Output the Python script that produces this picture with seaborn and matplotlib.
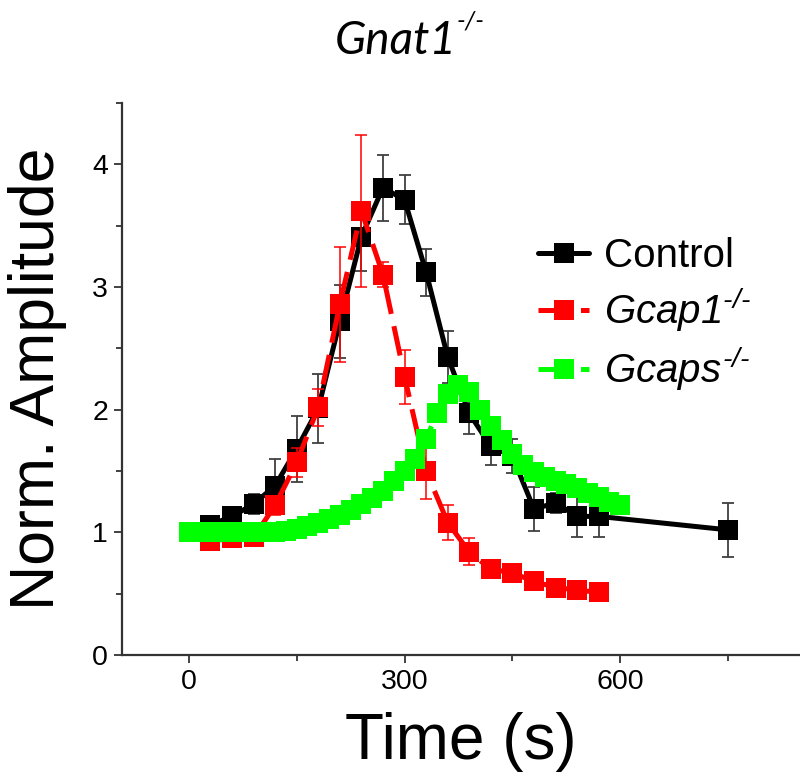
import numpy as np
import pandas as pd
import matplotlib
matplotlib.use("Agg")
import matplotlib.pyplot as plt
from matplotlib.ticker import MultipleLocator
import seaborn as sns

# data
t_ctrl = [30, 60, 90, 120, 150, 180, 210, 240, 270, 300, 330, 360, 390, 420, 450,
          480, 510, 540, 570, 750]
amp_ctrl = [1.06, 1.13, 1.23, 1.38, 1.68, 2.01, 2.72, 3.41, 3.81, 3.71, 3.12, 2.43,
            1.97, 1.70, 1.62, 1.19, 1.24, 1.13, 1.13, 1.02]
err_ctrl = [0.05, 0.07, 0.08, 0.22, 0.27, 0.28, 0.30, 0.28, 0.27, 0.20, 0.19, 0.21,
            0.17, 0.15, 0.14, 0.18, 0.08, 0.17, 0.17, 0.22]

t_gcap1 = [30, 60, 90, 120, 150, 180, 210, 240, 270, 300, 330, 360, 390, 420, 450,
           480, 510, 540, 570]
amp_gcap1 = [0.93, 0.95, 0.96, 1.22, 1.57, 2.02, 2.86, 3.62, 3.10, 2.27, 1.50, 1.08,
             0.84, 0.70, 0.67, 0.60, 0.55, 0.53, 0.51]
err_gcap1 = [0.03, 0.03, 0.03, 0.08, 0.12, 0.15, 0.47, 0.62, 0.10, 0.22, 0.23, 0.14,
             0.11, 0.05, 0.04, 0.03, 0.03, 0.03, 0.03]

t_gcaps = [0, 15, 30, 45, 60, 75, 90, 105, 120, 135, 150, 165, 180, 195, 210, 225,
           240, 255, 270, 285, 300, 315, 330, 345, 360, 375, 390, 405, 420, 435, 450,
           465, 480, 495, 510, 525, 540, 555, 570, 585, 600]
amp_gcaps = [1.00, 1.00, 1.00, 1.00, 1.00, 1.00, 1.00, 1.00, 1.00, 1.01, 1.03, 1.05,
             1.08, 1.11, 1.14, 1.18, 1.23, 1.28, 1.34, 1.42, 1.50, 1.60, 1.76, 1.97,
             2.13, 2.20, 2.14, 2.00, 1.87, 1.75, 1.64, 1.55, 1.49, 1.45, 1.42, 1.39,
             1.36, 1.32, 1.29, 1.25, 1.22]
err_gcaps = [0.05] * len(t_gcaps)

labels = ["Control", r"$Gcap1^{\text{-/-}}$", r"$Gcaps^{\text{-/-}}$"]

sns.set_style("ticks")
plt.rcParams["font.family"] = ["Liberation Sans", "DejaVu Sans"]
plt.rcParams["text.color"] = "black"
plt.rcParams["axes.labelcolor"] = "black"
plt.rcParams["xtick.color"] = "black"
plt.rcParams["ytick.color"] = "black"
# all math text (only used for the genotype labels) is italic
plt.rcParams["mathtext.fontset"] = "custom"
plt.rcParams["mathtext.it"] = "Liberation Sans:italic"
plt.rcParams["mathtext.rm"] = "Liberation Sans:italic"

fig = plt.figure(figsize=(8, 7.82), dpi=100)
ax = fig.add_axes([0.1525, 0.1624, 0.8475, 0.7059])

df_ctrl = pd.DataFrame({"t": t_ctrl, "amp": amp_ctrl})
df_g1 = pd.DataFrame({"t": t_gcap1, "amp": amp_gcap1})
df_gs = pd.DataFrame({"t": t_gcaps, "amp": amp_gcaps})

ms = 15
dash = (0, (6, 2.5))
# Control
ax.errorbar(t_ctrl, amp_ctrl, yerr=err_ctrl, fmt="none", ecolor="#404040",
            elinewidth=1.3, capsize=4.5, capthick=1.3, zorder=1)
sns.lineplot(data=df_ctrl, x="t", y="amp", ax=ax, color="black", marker="s",
             markersize=ms, markeredgewidth=0, linewidth=3.6, errorbar=None,
             label=labels[0], zorder=2)
# Gcap1-/-
ax.errorbar(t_gcap1, amp_gcap1, yerr=err_gcap1, fmt="none", ecolor="red",
            elinewidth=1.1, capsize=4.5, capthick=1.1, zorder=3)
sns.lineplot(data=df_g1, x="t", y="amp", ax=ax, color="#ff0000", marker="s",
             markersize=ms, markeredgewidth=0, linewidth=3.6, errorbar=None,
             linestyle=dash, label=labels[1], zorder=4)
# Gcaps-/-
ax.errorbar(t_gcaps, amp_gcaps, yerr=err_gcaps, fmt="none", ecolor="#00ff00",
            elinewidth=1.1, capsize=4.5, capthick=1.1, zorder=5)
sns.lineplot(data=df_gs, x="t", y="amp", ax=ax, color="#00ff00", marker="s",
             markersize=ms, markeredgewidth=0, linewidth=3.6, errorbar=None,
             linestyle=dash, label=labels[2], zorder=6)

ax.set_xlim(-93, 850)
ax.set_ylim(0, 4.5)
ax.set_xticks([0, 300, 600])
ax.xaxis.set_minor_locator(MultipleLocator(150))
ax.yaxis.set_major_locator(MultipleLocator(1))
ax.yaxis.set_minor_locator(MultipleLocator(0.5))
ax.tick_params(axis="both", which="major", direction="out", length=6, width=1.3,
               labelsize=20.5, color="#333333", pad=4)
ax.tick_params(axis="both", which="minor", direction="out", length=4, width=1.3,
               color="#333333")
sns.despine(ax=ax)
for s in ["left", "bottom"]:
    ax.spines[s].set_linewidth(1.6)
    ax.spines[s].set_color("#333333")

ax.set_xlabel("Time (s)", fontsize=46, labelpad=12)
ax.set_ylabel("Norm. Amplitude", fontsize=45, labelpad=18)

handles, _ = ax.get_legend_handles_labels()
ax.legend(handles=handles, labels=labels, loc="upper left",
          bbox_to_anchor=(538 / 800, 1 - 237 / 782), bbox_transform=fig.transFigure,
          frameon=False, fontsize=29, borderpad=0, borderaxespad=0,
          handlelength=1.27, handletextpad=0.37, labelspacing=0.26)

t1 = fig.text(0.495, 0.947, "Gnat1", fontsize=33, family="Lato", style="italic",
              ha="center", va="center")
ax.annotate("-/-", xy=(1.0, 0.72), xycoords=t1, fontsize=18, family="Lato",
            style="italic", ha="left", va="bottom")

fig.savefig("out.png", dpi=100)
